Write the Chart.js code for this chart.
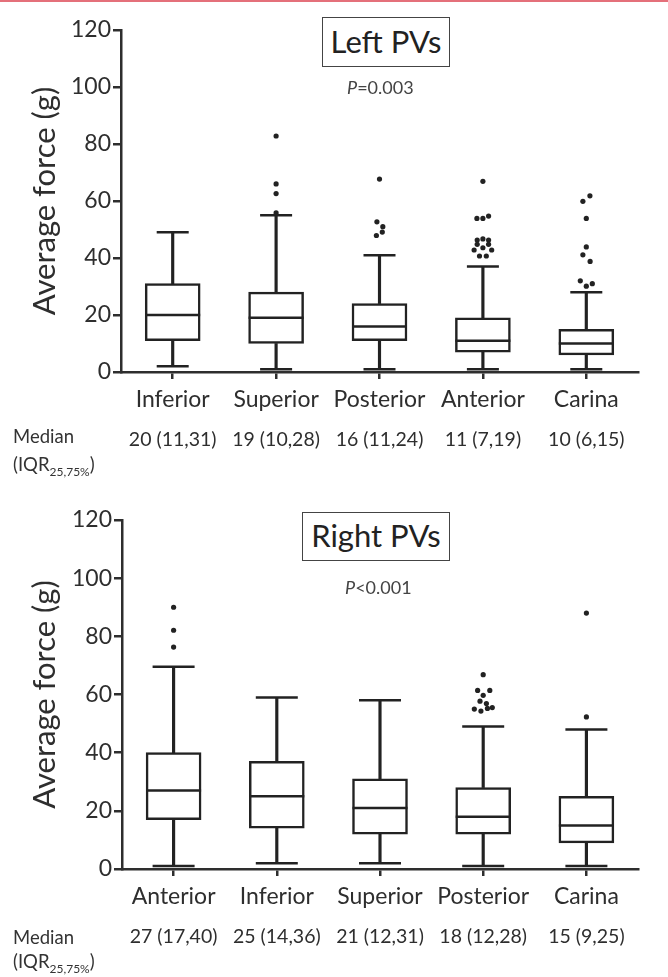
<!DOCTYPE html>
<html>
<head>
<meta charset="utf-8">
<script src="https://cdn.jsdelivr.net/npm/chart.js@4.4.1/dist/chart.umd.min.js"></script>
<style>
  html, body { margin: 0; padding: 0; background: #fff; }
  #page { position: relative; width: 668px; height: 977px; overflow: hidden; background: #fff; font-family: Lato, "Open Sans", sans-serif; color: #333; }
  #topline { position: absolute; left: 0; top: 0; width: 668px; height: 2px; background: #e4707a; }
  .wrap { position: absolute; left: 0; width: 668px; }
  .ttl { position: absolute; box-sizing: border-box; border: 1.5px solid #444; background: #fff; font-size: 31px; color: #222; text-align: center; white-space: nowrap; }
  .pval { position: absolute; font-size: 18px; color: #444; white-space: nowrap; }
  .side { position: absolute; left: 13px; font-size: 18.5px; color: #333; white-space: nowrap; line-height: 1; }
  .side sub { font-size: 12px; vertical-align: -5px; }
</style>
</head>
<body>
<div id="page">
  <div id="topline"></div>

  <div class="wrap" style="top:0;height:480px;"><canvas id="leftChart" width="668" height="480"></canvas></div>
  <div class="ttl" style="left:322px;top:17px;width:128px;height:50px;line-height:46px;">Left PVs</div>
  <div class="pval" style="left:347px;top:76px;"><i>P</i>=0.003</div>
  <div class="side" style="top:427px;">Median</div>
  <div class="side" style="top:455px;">(IQR<sub>25,75%</sub>)</div>

  <div class="wrap" style="top:490px;height:487px;"><canvas id="rightChart" width="668" height="487"></canvas></div>
  <div class="ttl" style="left:302px;top:512px;width:148px;height:49px;line-height:45px;">Right PVs</div>
  <div class="pval" style="left:345px;top:576px;"><i>P</i>&lt;0.001</div>
  <div class="side" style="top:928px;">Median</div>
  <div class="side" style="top:952px;">(IQR<sub>25,75%</sub>)</div>
</div>

<script>
// ---------- Left PVs ----------
const leftCategories = ['Inferior', 'Superior', 'Posterior', 'Anterior', 'Carina'];
const leftMin    = [2, 1, 1, 1, 1];
const leftQ1     = [11, 10, 11, 7, 6];
const leftMedian = [20, 19, 16, 11, 10];
const leftQ3     = [31, 28, 24, 19, 15];
const leftMax    = [49, 55, 41, 37, 28];
const leftMedianLabels = ['20 (11,31)', '19 (10,28)', '16 (11,24)', '11 (7,19)', '10 (6,15)'];
// outliers: category index, value, horizontal jitter (fraction of category)
const leftOutlierCat = [1, 1, 1, 1,
                        2, 2, 2, 2, 2,
                        3, 3, 3, 3, 3, 3, 3, 3, 3, 3, 3, 3, 3, 3,
                        4, 4, 4, 4, 4, 4, 4, 4, 4];
const leftOutlierVal = [82.8, 66.0, 62.6, 55.8,
                        67.7, 52.7, 51.0, 49.1, 47.9,
                        66.9, 53.9, 53.9, 54.7, 46.3, 46.7, 46.3, 44.8, 44.8, 43.6, 42.8, 42.8, 40.7, 40.7,
                        61.8, 59.9, 53.9, 43.9, 41.1, 38.8, 32.0, 31.0, 30.1];
const leftOutlierJit = [0, 0, 0, 0,
                        0, -0.025, 0.032, 0.027, -0.03,
                        0, -0.058, 0, 0.055, -0.055, 0, 0.055, -0.055, 0.055, 0, -0.085, 0.085, -0.033, 0.033,
                        0.035, -0.033, 0, 0, -0.033, 0.037, -0.058, 0.058, 0];

// ---------- Right PVs ----------
const rightCategories = ['Anterior', 'Inferior', 'Superior', 'Posterior', 'Carina'];
const rightMin    = [1, 2, 2, 1, 1];
const rightQ1     = [17, 14, 12, 12, 9];
const rightMedian = [27, 25, 21, 18, 15];
const rightQ3     = [40, 37, 31, 28, 25];
const rightMax    = [69.5, 59, 58, 49, 48];
const rightMedianLabels = ['27 (17,40)', '25 (14,36)', '21 (12,31)', '18 (12,28)', '15 (9,25)'];
const rightOutlierCat = [0, 0, 0,
                         3, 3, 3, 3, 3, 3, 3, 3, 3, 3,
                         4, 4];
const rightOutlierVal = [90.0, 82.1, 76.3,
                         66.8, 61.4, 61.4, 59.7, 57.7, 56.9, 55.0, 54.3, 55.2, 55.5,
                         88.0, 52.3];
const rightOutlierJit = [0, 0, 0,
                         0, -0.054, 0.064, 0, -0.031, 0.031, -0.086, -0.022, 0.041, 0.088,
                         0, 0];

const yTicks = [0, 20, 40, 60, 80, 100, 120];

const INK = '#222';
const AXIS = '#2e2e2e';
const FONT = 'Lato, "Open Sans", sans-serif';

function makeBoxChart(id, cats, mins, q1s, meds, q3s, maxs, medLabels, oCat, oVal, oJit, geom) {
  const ctx = document.getElementById(id).getContext('2d');
  const outliers = oCat.map((c, i) => ({ x: c + oJit[i], y: oVal[i] }));
  return new Chart(ctx, {
    data: {
      labels: cats,
      datasets: [
        { type: 'bar', xAxisID: 'x', data: cats.map((c, i) => [mins[i], q1s[i]]),
          backgroundColor: INK, borderWidth: 0, barThickness: 2.5, grouped: false, order: 5 },
        { type: 'bar', xAxisID: 'x', data: cats.map((c, i) => [q3s[i], maxs[i]]),
          backgroundColor: INK, borderWidth: 0, barThickness: 2.5, grouped: false, order: 5 },
        { type: 'bar', xAxisID: 'x', data: cats.map((c, i) => [q1s[i], q3s[i]]),
          backgroundColor: '#fff', borderColor: INK, borderWidth: 2.5, borderSkipped: false,
          barThickness: 55, grouped: false, order: 4 },
        { type: 'line', xAxisID: 'x', data: meds, showLine: false, pointStyle: 'line',
          pointRadius: 27.5, pointBorderWidth: 2.5, pointBorderColor: INK, order: 3 },
        { type: 'line', xAxisID: 'x', data: maxs, showLine: false, pointStyle: 'line',
          pointRadius: geom.cap, pointBorderWidth: 2.5, pointBorderColor: INK, order: 3 },
        { type: 'line', xAxisID: 'x', data: mins, showLine: false, pointStyle: 'line',
          pointRadius: geom.cap, pointBorderWidth: 2.5, pointBorderColor: INK, order: 3 },
        { type: 'scatter', xAxisID: 'xo', data: outliers, pointRadius: 2.6,
          pointBackgroundColor: INK, pointBorderWidth: 0, order: 1 }
      ]
    },
    options: {
      responsive: false,
      animation: false,
      events: [],
      layout: { padding: { top: geom.top, bottom: geom.bottom, left: 0, right: geom.right } },
      plugins: { legend: { display: false }, tooltip: { enabled: false }, title: { display: false } },
      scales: {
        x: {
          type: 'category', position: 'bottom', labels: cats, offset: true,
          grid: { display: true, offset: false, drawOnChartArea: false, drawTicks: true, tickLength: 7, color: AXIS, lineWidth: 2.5 },
          border: { display: true, color: AXIS, width: 2.5 },
          ticks: { font: { family: FONT, size: 23 }, color: AXIS, padding: 7, maxRotation: 0, autoSkip: false },
          afterFit: (s) => { s.height = 48; }
        },
        x2: {
          type: 'category', position: 'bottom', labels: medLabels, offset: true,
          grid: { display: false, drawTicks: false, drawOnChartArea: false },
          border: { display: false },
          ticks: { font: { family: FONT, size: 19.5 }, color: AXIS, padding: 8, maxRotation: 0, autoSkip: false },
          afterFit: (s) => { s.height = 44; }
        },
        xo: { type: 'linear', display: false, min: -0.5, max: cats.length - 0.5 },
        y: {
          min: 0, max: 120,
          afterBuildTicks: (s) => { s.ticks = yTicks.map(v => ({ value: v })); },
          grid: { display: true, drawOnChartArea: false, drawTicks: true, tickLength: 8, color: AXIS, lineWidth: 2.5 },
          border: { display: true, color: AXIS, width: 2.5 },
          ticks: { font: { family: FONT, size: 23 }, color: AXIS, padding: 2 },
          title: { display: true, text: 'Average force (g)', font: { family: FONT, size: 31 }, color: AXIS, padding: { top: 26, bottom: 0 } },
          afterFit: (s) => { s.width = geom.left; }
        }
      }
    }
  });
}

makeBoxChart('leftChart', leftCategories, leftMin, leftQ1, leftMedian, leftQ3, leftMax, leftMedianLabels,
  leftOutlierCat, leftOutlierVal, leftOutlierJit, { top: 19, bottom: 16, right: 6, left: 121, cap: 16 });
makeBoxChart('rightChart', rightCategories, rightMin, rightQ1, rightMedian, rightQ3, rightMax, rightMedianLabels,
  rightOutlierCat, rightOutlierVal, rightOutlierJit, { top: 26, bottom: 16, right: 20, left: 122, cap: 21 });
</script>
</body>
</html>
